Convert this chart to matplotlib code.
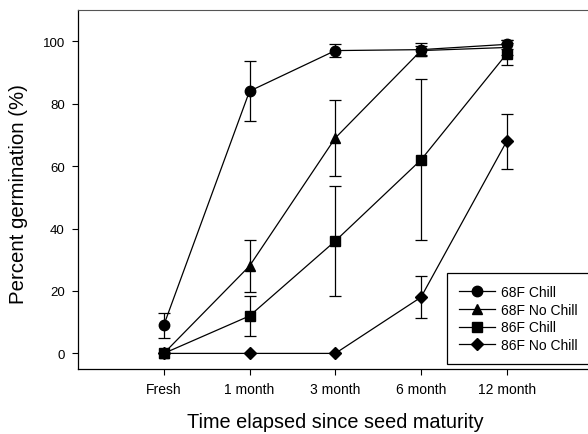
import matplotlib
matplotlib.use("Agg")
import matplotlib.pyplot as plt
import numpy as np

plt.rcParams['font.family'] = ['Liberation Sans', 'DejaVu Sans']

# categories on the x axis
times = ['Fresh', '1 month', '3 month', '6 month', '12 month']

# mean germination (%) and error (+/-) per treatment
chill_68 = [9, 84, 97, 97.3, 99]
chill_68_err = [4, 9.6, 2, 2, 1.5]
nochill_68 = [0, 28, 69, 97, 98]
nochill_68_err = [0, 8.3, 12.3, 1.5, 2.5]
chill_86 = [0, 12, 36, 62, 96]
chill_86_err = [0, 6.4, 17.6, 25.8, 3.5]
nochill_86 = [0, 0, 0, 18, 68]
nochill_86_err = [0, 0, 0, 6.7, 8.8]

labels = ['68F Chill', '68F No Chill', '86F Chill', '86F No Chill']
markers = ['o', '^', 's', 'D']
msizes = [7.5, 7, 6.5, 6.5]

fig = plt.figure(figsize=(5.88, 4.35), dpi=100)
ax = fig.add_axes([0.1327, 0.1494, 0.875, 0.8253])

x = np.arange(len(times))
series = [(chill_68, chill_68_err), (nochill_68, nochill_68_err),
          (chill_86, chill_86_err), (nochill_86, nochill_86_err)]

for (vals, err), lab, m, ms in zip(series, labels, markers, msizes):
    err = np.array(err, dtype=float)
    mask = err > 0
    ax.errorbar(x[mask], np.array(vals)[mask], yerr=err[mask], fmt='none',
                ecolor='black', elinewidth=0.9, capsize=4.5, capthick=0.9, zorder=2)
    ax.plot(x, vals, color='black', lw=0.9, marker=m, markersize=ms,
            markerfacecolor='black', markeredgecolor='black', label=lab, zorder=3)

ax.set_xlim(-1, 5)
ax.set_ylim(-5, 110)
ax.set_xticks(x)
ax.set_xticklabels(times)
ax.set_yticks([0, 20, 40, 60, 80, 100])
ax.tick_params(axis='y', direction='out', length=4, width=0.8, labelsize=9.5, pad=5.5)
ax.tick_params(axis='x', direction='out', length=4, width=0.8, labelsize=10, pad=5)

ax.spines['top'].set_color('#555555')
ax.spines['right'].set_visible(False)
for s in ['left', 'bottom']:
    ax.spines[s].set_linewidth(0.9)

ax.set_xlabel('Time elapsed since seed maturity', fontsize=14.3, labelpad=12)
ax.set_ylabel('Percent germination (%)', fontsize=14.7)
ax.yaxis.set_label_coords(-0.098, 0.49)

leg = ax.legend(loc='upper left', bbox_to_anchor=(0.717, 0.267), borderaxespad=0,
                fancybox=False, edgecolor='black', fontsize=10, handlelength=2.6,
                labelspacing=0.27, borderpad=0.85, framealpha=1, handletextpad=0.45)
leg.get_frame().set_linewidth(0.9)

fig.savefig('out.png', dpi=100)
